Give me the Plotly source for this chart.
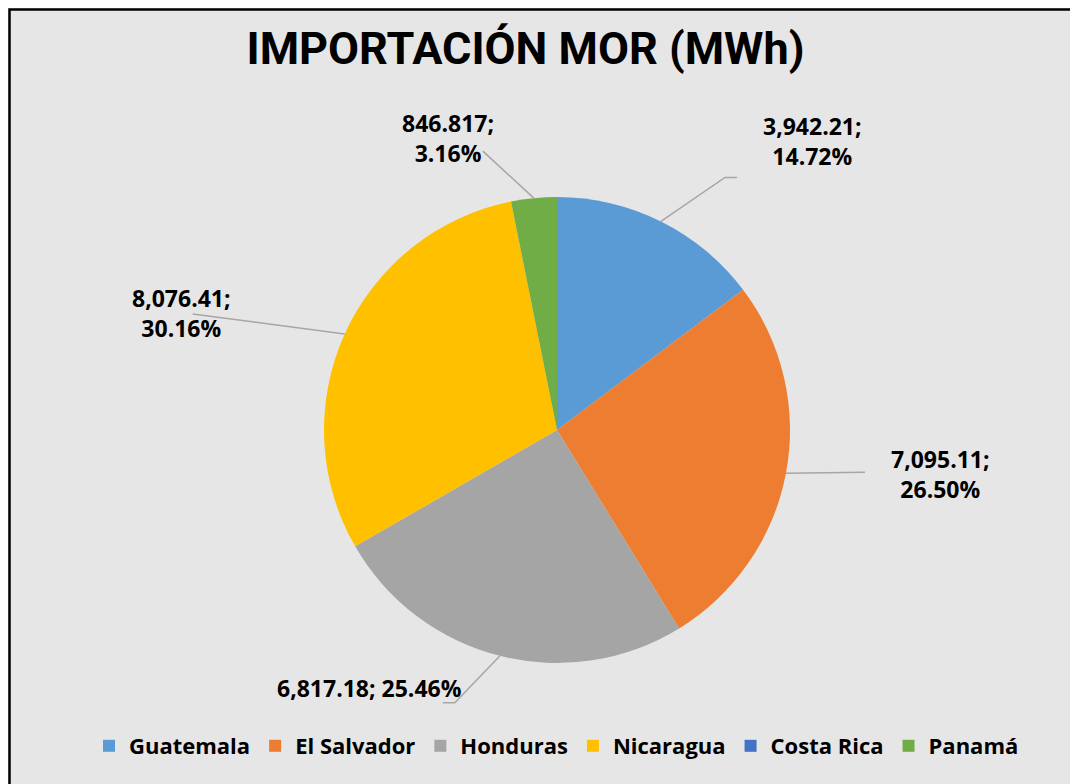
import math
import plotly.graph_objects as go

paises = ["Guatemala", "El Salvador", "Honduras", "Nicaragua", "Costa Rica", "Panamá"]
mwh = [3942.21, 7095.11, 6817.18, 8076.41, 0, 846.817]
etiquetas = ["3,942.21;<br>14.72%", "7,095.11;<br>26.50%", "6,817.18; 25.46%",
             "8,076.41;<br>30.16%", "", "846.817;<br>3.16%"]
colores = ["#5B9BD5", "#ED7D31", "#A5A5A5", "#FFC000", "#4472C4", "#70AD47"]

W, H = 1078, 784
# pie geometry in figure pixels
cx, cy, R = 549, 422, 233

# leader line offsets (elbow, end) and label offsets, relative to slice edge (px)
codo = [(64, -44), (79, -1), (-45, 47), (-152, -20), None, (-51, -47)]
fin = [(76, -44), (79, -1), (-57, 47), (-152, -20), None, (-51, -47)]
pos_txt = [(152, -80), (155, 1), (-130, 32), (-163, -21), None, (-86, -60)]


def to_paper(x, y):
    return x / W, 1 - y / H


fig = go.Figure(go.Pie(
    labels=paises,
    values=mwh,
    textinfo="none",
    sort=False,
    direction="clockwise",
    rotation=0,
    marker=dict(colors=colores, line=dict(color="rgba(0,0,0,0)", width=0)),
    domain=dict(x=[(cx - R) / W, (cx + R) / W], y=[1 - (cy + R) / H, 1 - (cy - R) / H]),
    hoverinfo="label+value+percent",
))

total = sum(mwh)
acum = 0
shapes = []
annotations = []
for i, v in enumerate(mwh):
    ang = 2 * math.pi * (acum + v / 2) / total
    acum += v
    if not etiquetas[i]:
        continue
    ex = cx + R * math.sin(ang)
    ey = cy - R * math.cos(ang)
    pts = [(ex, ey), (ex + codo[i][0], ey + codo[i][1]), (ex + fin[i][0], ey + fin[i][1])]
    path = "M " + " L ".join("%.4f,%.4f" % to_paper(*p) for p in pts)
    shapes.append(dict(type="path", xref="paper", yref="paper", path=path,
                       line=dict(color="#A6A6A6", width=1.5)))
    tx, ty = to_paper(ex + pos_txt[i][0], ey + pos_txt[i][1])
    annotations.append(dict(x=tx, y=ty, xref="paper", yref="paper", text=etiquetas[i],
                            showarrow=False, xanchor="center", yanchor="middle", align="center",
                            font=dict(family="Open Sans", size=23, color="black", weight="bold")))

shapes.append(dict(type="rect", xref="paper", yref="paper", x0=1.5 / W, y0=-0.05, x1=1.05, y1=1 - 1.5 / H,
                   line=dict(color="black", width=2.5), fillcolor="rgba(0,0,0,0)", layer="above"))

fig.update_layout(
    width=W, height=H,
    margin=dict(l=0, r=0, t=0, b=0),
    paper_bgcolor="#E7E6E6",
    plot_bgcolor="#E7E6E6",
    title=dict(text="<b>IMPORTACIÓN MOR (MWh)</b>", x=517.5 / W, xanchor="center",
               y=1 - 40 / H, yanchor="middle",
               font=dict(family="Roboto", size=45, color="black")),
    legend=dict(orientation="h", x=548.5 / W, xanchor="center", y=1 - 738 / H, yanchor="middle",
                font=dict(family="Open Sans", size=22, color="black", weight="bold"),
                itemwidth=30, traceorder="normal"),
    shapes=shapes,
    annotations=annotations,
)

fig.write_html("out.html")
